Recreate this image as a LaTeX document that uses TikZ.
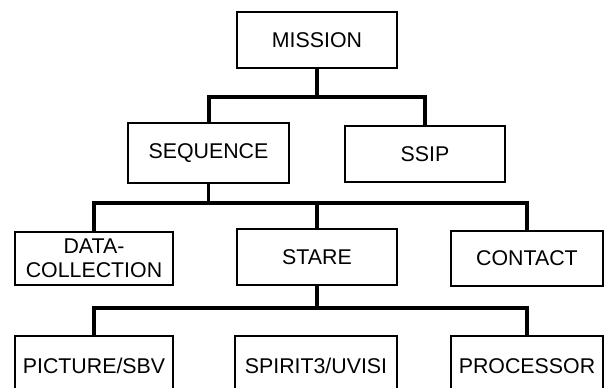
\documentclass[tikz,border=0pt]{standalone}
\usepackage{fontspec}
\setmainfont{Liberation Sans}
\usepackage{tikz}
\usetikzlibrary{calc}
\tikzset{
  box/.style ={rectangle,draw,line width=2pt,minimum width=120pt,minimum height=42pt,inner sep=0pt,font=\fontsize{16}{18}\selectfont,align=center},
  bus/.style ={line width=3pt,line join=miter,line cap=rect},
  stem/.style={line width=2.6pt},
}

\begin{document}
\begin{tikzpicture}[x=0.75pt,y=-0.75pt]
  \useasboundingbox (0,0) rectangle (606,387);
  \clip (0,0) rectangle (606,387);
  % levels
  \node[box] (mission)  at (317,40){MISSION};
  \node[box,minimum width=120.75pt,minimum height=45pt] (sequence) at (208.5,153){SEQUENCE};
  \node[box] (ssip)     at (425,154){SSIP};
  \node[box,minimum width=118.5pt,minimum height=39.75pt] (datacoll) at (94,258.5){DATA-\\COLLECTION};
  \node[box] (stare)    at (317,257){STARE};
  \node[box,minimum width=114pt,minimum height=41.25pt] (contact)  at (527,258.5){CONTACT};
  \node[box,minimum width=118.5pt,minimum height=45pt] (picture)  at (94,366){PICTURE/SBV};
  \node[box,minimum width=121.5pt,minimum height=45pt] (spirit)   at (316,366){SPIRIT3/UVISI};
  \node[box,minimum width=114pt,minimum height=45pt] (processor) at (527,366){PROCESSOR};
  \coordinate (bar1) at (0,97);
  \coordinate (bar2) at (0,203);
  \coordinate (bar3) at (0,308);
  % mission
  \draw[stem] (mission.south) -- (mission.south |- bar1);
  \draw[bus] (sequence.north) -- (sequence.north |- bar1) -- (ssip.north |- bar1) -- (ssip.north);
  % sequence
  \draw[stem] (sequence.south) -- (sequence.south |- bar2);
  \draw[bus] (datacoll.north) -- (datacoll.north |- bar2) -- (contact.north |- bar2) -- (contact.north);
  \draw[stem] (stare.north |- bar2) -- (stare.north);
  % stare
  \draw[stem] (stare.south) -- (stare.south |- bar3);
  \draw[bus] (picture.north) -- (picture.north |- bar3) -- (processor.north |- bar3) -- (processor.north);
\end{tikzpicture}
\end{document}
